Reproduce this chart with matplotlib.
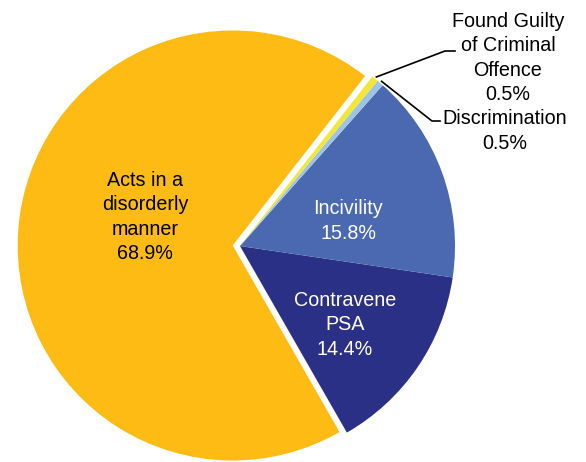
import numpy as np
import matplotlib
matplotlib.use("Agg")
import matplotlib.pyplot as plt

plt.rcParams['font.family'] = ['Liberation Sans', 'DejaVu Sans']

# complaint categories, counter-clockwise from the bottom right
categories = ["Contravene\nPSA", "Incivility", "Discrimination",
              "Found Guilty\nof Criminal\nOffence", "Acts in a\ndisorderly\nmanner"]
shares = [14.4, 15.8, 0.5, 0.5, 68.9]
colors = ["#2B3087", "#4A69B0", "#9DC3E6", "#F3E735", "#FDBB13"]
explode = [0, 0, 0, 0, 0.034]

fig = plt.figure(figsize=(5.86, 4.62), dpi=100)
ax = fig.add_axes([0, 0, 1, 1])

R = 215.0  # pie radius in pixels
cx, cy = 240.0, 462 - 246.0
wedges, _ = ax.pie(shares, colors=colors, explode=explode, startangle=-60.2,
                   counterclock=True, radius=1, wedgeprops=dict(linewidth=0))

ax.set_xlim(-cx / R, (586 - cx) / R)
ax.set_ylim(-cy / R, (462 - cy) / R)
ax.set_aspect('equal')
ax.axis('off')

def px(x, y):
    # pixel position (from top-left) to data coords
    return (x - cx) / R, ((462 - y) - cy) / R

fs = 14.2
ls = 1.36
# labels inside the slices
inside = {0: (345, 325, 'white'), 1: (348, 221, 'white'), 4: (145, 217, 'black')}
for i, (x, y, c) in inside.items():
    ax.text(*px(x, y), f"{categories[i]}\n{shares[i]}%", ha='center', va='center',
            color=c, fontsize=fs, linespacing=ls)

# leader lines for the two thin slices
for i, (tx, ty, elbow, end) in {3: (508, 58, (445, 51), (455, 51)),
                                2: (505, 131, (432, 121), (440, 121))}.items():
    w = wedges[i]
    ang = np.deg2rad((w.theta1 + w.theta2) / 2)
    start = (np.cos(ang) * 1.01, np.sin(ang) * 1.01)
    pts = [start, px(*elbow), px(*end)]
    ax.plot([p[0] for p in pts], [p[1] for p in pts], color='black', lw=1.2)
    ax.text(*px(tx, ty), f"{categories[i]}\n{shares[i]}%", ha='center', va='center',
            color='black', fontsize=fs, linespacing=ls)

fig.savefig("out.png", dpi=100)
